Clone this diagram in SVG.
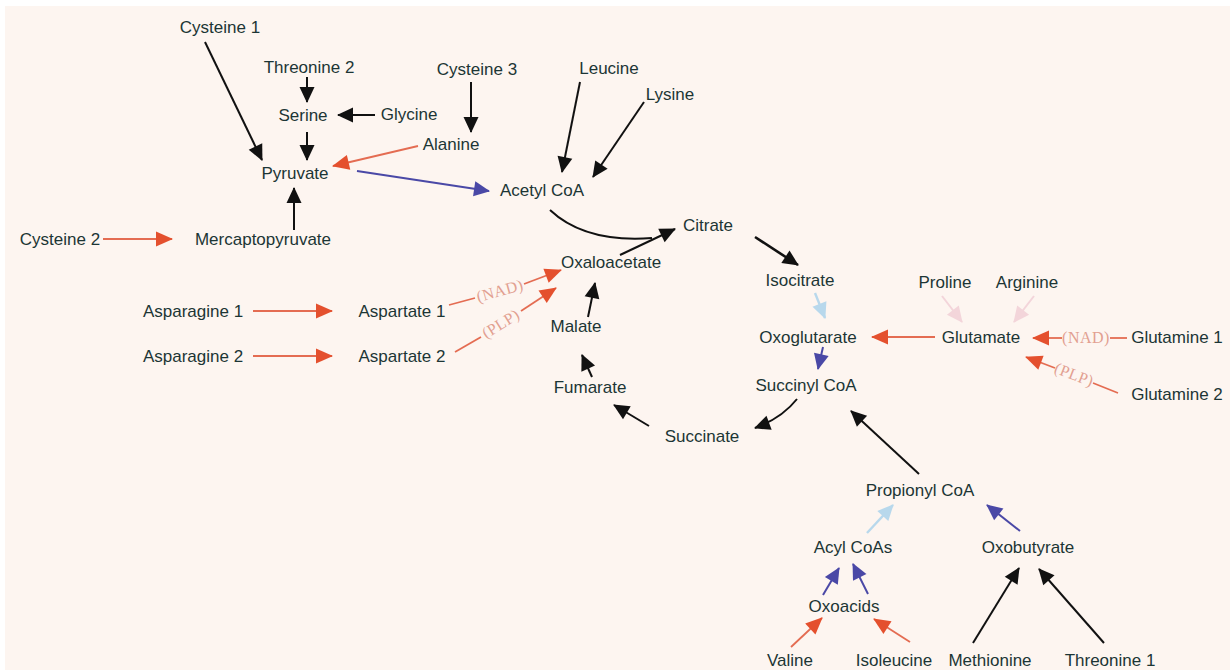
<svg xmlns="http://www.w3.org/2000/svg" width="1230" height="670" viewBox="0 0 1230 670">
<style>
.t{font-family:"Liberation Sans",Arial,sans-serif;font-size:17px;fill:#1c3535;text-anchor:middle}
.lab{font-family:"Liberation Serif","Times New Roman",serif;font-size:16px;fill:#e2a090;text-anchor:middle;letter-spacing:0.5px}
.k{stroke:#111;stroke-width:2;fill:none;marker-end:url(#hk)}
.k2{stroke:#111;stroke-width:2.6;fill:none;marker-end:url(#hk)}
.o{stroke:#e46c52;stroke-width:1.8;fill:none;marker-end:url(#ho)}
.on{stroke:#e46c52;stroke-width:1.8;fill:none}
.b{stroke:#4a48a6;stroke-width:2;fill:none;marker-end:url(#hb)}
.lb{stroke:#b8d8ec;stroke-width:2.4;fill:none;marker-end:url(#hl)}
.p{stroke:#f3d5da;stroke-width:2;fill:none;marker-end:url(#hp)}
</style>
<defs>
<marker id="hk" markerUnits="userSpaceOnUse" markerWidth="20" markerHeight="18" refX="15" refY="7.5" orient="auto" overflow="visible"><path d="M0,0 L16,7.5 L0,15 z" fill="#111"/></marker>
<marker id="ho" markerUnits="userSpaceOnUse" markerWidth="20" markerHeight="18" refX="16" refY="7.5" orient="auto" overflow="visible"><path d="M0,0 L17,7.5 L0,15 z" fill="#e4502e"/></marker>
<marker id="hb" markerUnits="userSpaceOnUse" markerWidth="20" markerHeight="18" refX="15" refY="7.5" orient="auto" overflow="visible"><path d="M0,0 L16,7.5 L0,15 z" fill="#4a48a6"/></marker>
<marker id="hl" markerUnits="userSpaceOnUse" markerWidth="20" markerHeight="18" refX="15" refY="7.5" orient="auto" overflow="visible"><path d="M0,0 L16,7.5 L0,15 z" fill="#b8d8ec"/></marker>
<marker id="hp" markerUnits="userSpaceOnUse" markerWidth="20" markerHeight="18" refX="15" refY="7.5" orient="auto" overflow="visible"><path d="M0,0 L16,7.5 L0,15 z" fill="#f3d5da"/></marker>
</defs>
<rect x="0" y="0" width="1230" height="670" fill="#ffffff"/>
<rect x="5" y="6" width="1225" height="664" fill="#fdf5f0"/>

<g id="connectors">
<line class="k" x1="205" y1="42" x2="262" y2="160"/>
<line class="k" x1="307" y1="77" x2="307" y2="102"/>
<line class="k" x1="375" y1="115" x2="338" y2="115"/>
<line class="k" x1="307" y1="132" x2="307" y2="160"/>
<line class="k" x1="471" y1="82" x2="471" y2="132"/>
<line class="k" x1="580" y1="82" x2="562" y2="172"/>
<line class="k" x1="644" y1="102" x2="593" y2="177"/>
<line class="k" x1="294" y1="230" x2="294" y2="188"/>
<path class="on" d="M550,210 Q585,243 652,238" style="stroke:#111;stroke-width:2"/>
<line class="k" x1="620" y1="255" x2="675" y2="229"/>
<line class="k2" x1="755" y1="237" x2="798" y2="265"/>
<line class="k" x1="588" y1="317" x2="595" y2="283"/>
<line class="k" x1="592" y1="377" x2="582" y2="355"/>
<line class="k" x1="649" y1="426" x2="614" y2="405"/>
<path class="k" d="M797,399 Q782,418 755,428"/>
<line class="k" x1="919" y1="474" x2="851" y2="411"/>
<line class="k" x1="973" y1="643" x2="1019" y2="568"/>
<line class="k" x1="1104" y1="643" x2="1039" y2="569"/>

<line class="o" x1="418" y1="146" x2="333" y2="166"/>
<line class="o" x1="103" y1="239" x2="172" y2="239"/>
<line class="o" x1="253" y1="311" x2="332" y2="311"/>
<line class="o" x1="253" y1="356" x2="332" y2="356"/>
<line class="on" x1="449" y1="305" x2="475" y2="298"/>
<line class="o" x1="524" y1="284" x2="561" y2="270"/>
<text class="lab" x="500" y="296" transform="rotate(-15.5 500 291)">(NAD)</text>
<line class="on" x1="455" y1="352" x2="481" y2="337"/>
<line class="o" x1="521" y1="311" x2="556" y2="288"/>
<text class="lab" x="501" y="329" transform="rotate(-32 501 324)">(PLP)</text>
<line class="o" x1="935" y1="337" x2="872" y2="337"/>
<line class="on" x1="1127" y1="338" x2="1110" y2="338"/>
<text class="lab" x="1086" y="343">(NAD)</text>
<line class="o" x1="1062" y1="338" x2="1033" y2="338"/>
<line class="on" x1="1118" y1="393" x2="1093" y2="383"/>
<text class="lab" x="1074" y="380" transform="rotate(21 1074 375)">(PLP)</text>
<line class="o" x1="1055" y1="368" x2="1026" y2="357"/>
<line class="o" x1="791" y1="647" x2="822" y2="618"/>
<line class="o" x1="910" y1="642" x2="874" y2="619"/>

<line class="b" x1="357" y1="171" x2="489" y2="191"/>
<line class="b" x1="823" y1="347" x2="818" y2="369"/>
<line class="b" x1="1020" y1="531" x2="987" y2="505"/>
<line class="b" x1="823" y1="595" x2="839" y2="568"/>
<line class="b" x1="868" y1="594" x2="853" y2="564"/>

<line class="lb" x1="815" y1="293" x2="825" y2="318"/>
<line class="lb" x1="867" y1="533" x2="893" y2="505"/>

<line class="p" x1="942" y1="296" x2="962" y2="322"/>
<line class="p" x1="1034" y1="296" x2="1014" y2="322"/>
</g>

<g id="n-cysteine1"><text class="t" x="220" y="33">Cysteine 1</text></g>
<g id="n-threonine2"><text class="t" x="309" y="73">Threonine 2</text></g>
<g id="n-serine"><text class="t" x="303" y="121">Serine</text></g>
<g id="n-glycine"><text class="t" x="409" y="120">Glycine</text></g>
<g id="n-cysteine3"><text class="t" x="477" y="75">Cysteine 3</text></g>
<g id="n-alanine"><text class="t" x="451" y="150">Alanine</text></g>
<g id="n-leucine"><text class="t" x="609" y="74">Leucine</text></g>
<g id="n-lysine"><text class="t" x="670" y="100">Lysine</text></g>
<g id="n-pyruvate"><text class="t" x="295" y="179">Pyruvate</text></g>
<g id="n-acetylcoa"><text class="t" x="542" y="196">Acetyl CoA</text></g>
<g id="n-cysteine2"><text class="t" x="60" y="245">Cysteine 2</text></g>
<g id="n-mercaptopyruvate"><text class="t" x="263" y="245">Mercaptopyruvate</text></g>
<g id="n-citrate"><text class="t" x="708" y="231">Citrate</text></g>
<g id="n-oxaloacetate"><text class="t" x="611" y="268">Oxaloacetate</text></g>
<g id="n-isocitrate"><text class="t" x="800" y="286">Isocitrate</text></g>
<g id="n-proline"><text class="t" x="945" y="288">Proline</text></g>
<g id="n-arginine"><text class="t" x="1027" y="288">Arginine</text></g>
<g id="n-asparagine1"><text class="t" x="193" y="317">Asparagine 1</text></g>
<g id="n-aspartate1"><text class="t" x="402" y="317">Aspartate 1</text></g>
<g id="n-malate"><text class="t" x="576" y="332">Malate</text></g>
<g id="n-oxoglutarate"><text class="t" x="808" y="343">Oxoglutarate</text></g>
<g id="n-glutamate"><text class="t" x="981" y="343">Glutamate</text></g>
<g id="n-glutamine1"><text class="t" x="1177" y="343">Glutamine 1</text></g>
<g id="n-asparagine2"><text class="t" x="193" y="362">Asparagine 2</text></g>
<g id="n-aspartate2"><text class="t" x="402" y="362">Aspartate 2</text></g>
<g id="n-succinylcoa"><text class="t" x="806" y="391">Succinyl CoA</text></g>
<g id="n-fumarate"><text class="t" x="590" y="393">Fumarate</text></g>
<g id="n-glutamine2"><text class="t" x="1177" y="400">Glutamine 2</text></g>
<g id="n-succinate"><text class="t" x="702" y="442">Succinate</text></g>
<g id="n-propionylcoa"><text class="t" x="920" y="496">Propionyl CoA</text></g>
<g id="n-acylcoas"><text class="t" x="853" y="553">Acyl CoAs</text></g>
<g id="n-oxobutyrate"><text class="t" x="1028" y="553">Oxobutyrate</text></g>
<g id="n-oxoacids"><text class="t" x="844" y="612">Oxoacids</text></g>
<g id="n-valine"><text class="t" x="790" y="666">Valine</text></g>
<g id="n-isoleucine"><text class="t" x="894" y="666">Isoleucine</text></g>
<g id="n-methionine"><text class="t" x="990" y="666">Methionine</text></g>
<g id="n-threonine1"><text class="t" x="1110" y="666">Threonine 1</text></g>
</svg>
